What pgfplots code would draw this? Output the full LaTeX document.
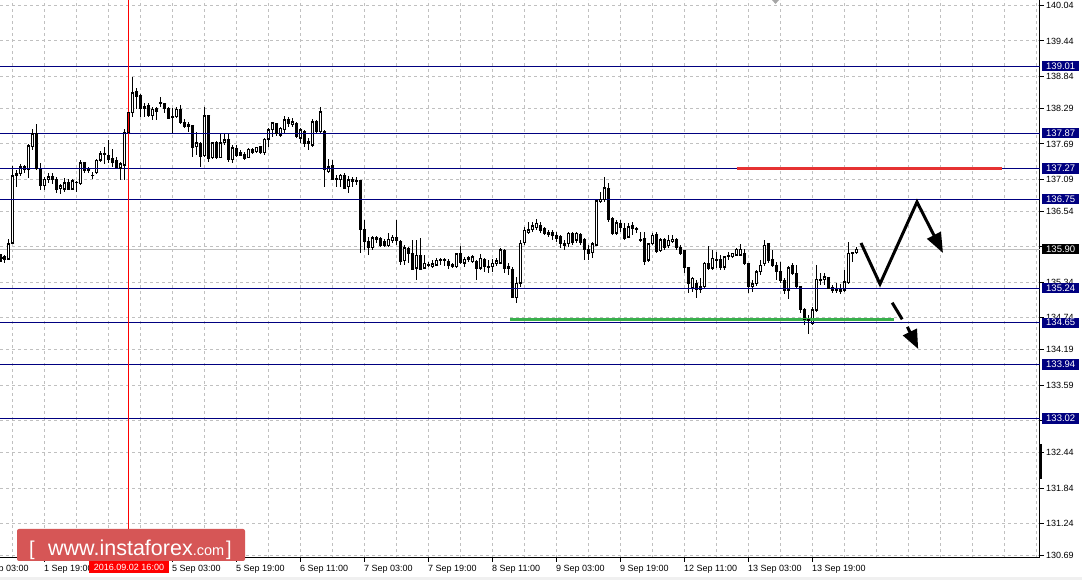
\documentclass[border=0pt]{standalone}
\usepackage{pgfplots}
\pgfplotsset{compat=1.18}
\usepackage{pgfplotstable}
\usepackage{fontspec}
\setmainfont{Liberation Sans}
\usetikzlibrary{arrows.meta}
\definecolor{lvl}{RGB}{0,0,128}
\definecolor{gridc}{RGB}{192,192,192}
\definecolor{lred}{RGB}{230,50,50}
\definecolor{lgreen}{RGB}{56,176,76}
\definecolor{logor}{RGB}{214,86,86}

\pgfplotstableread{
n o h l c
0 135.75 135.82 135.68 135.76
1 135.77 135.80 135.67 135.73
2 135.73 136.07 135.72 135.99
3 136.00 137.31 135.99 137.15
4 137.18 137.25 136.96 137.16
5 137.18 137.35 137.15 137.30
6 137.25 137.33 137.20 137.30
7 137.25 137.69 137.11 137.66
8 137.64 137.94 137.59 137.86
9 137.86 138.03 137.25 137.28
10 137.26 137.37 136.91 136.98
11 136.98 137.13 136.91 137.09
12 137.08 137.20 137.03 137.13
13 137.13 137.20 137.01 137.08
14 137.09 137.13 136.86 136.91
15 136.93 137.01 136.84 136.98
16 136.92 137.11 136.87 137.03
17 137.03 137.09 136.91 136.92
18 136.92 137.09 136.91 137.06
19 137.04 137.06 136.87 137.03
20 137.01 137.42 136.99 137.37
21 137.37 137.38 137.20 137.24
22 137.26 137.30 137.20 137.25
23 137.16 137.22 137.10 137.15
24 137.20 137.43 137.19 137.41
25 137.41 137.57 137.39 137.52
26 137.52 137.64 137.35 137.51
27 137.50 137.76 137.37 137.42
28 137.45 137.60 137.30 137.37
29 137.41 137.47 137.27 137.29
30 137.28 137.39 137.08 137.35
31 137.33 137.94 137.08 137.88
32 137.88 138.23 137.86 138.22
33 138.22 138.82 138.15 138.56
34 138.58 138.64 138.28 138.49
35 138.51 138.54 138.15 138.30
36 138.32 138.39 138.15 138.30
37 138.34 138.39 138.14 138.18
38 138.17 138.31 138.10 138.28
39 138.30 138.32 138.10 138.24
40 138.40 138.48 138.32 138.39
41 138.38 138.39 138.22 138.30
42 138.30 138.32 138.11 138.13
43 138.15 138.30 137.86 138.14
44 138.15 138.31 138.13 138.28
45 138.28 138.35 138.04 138.05
46 138.05 138.11 137.96 137.98
47 138.02 138.07 137.90 137.98
48 138.00 138.01 137.47 137.63
49 137.64 137.90 137.50 137.71
50 137.70 137.73 137.30 137.47
51 137.49 138.32 137.47 138.17
52 138.17 138.18 137.39 137.45
53 137.46 137.73 137.44 137.71
54 137.71 137.74 137.44 137.46
55 137.46 137.87 137.45 137.71
56 137.71 137.87 137.67 137.76
57 137.77 137.87 137.39 137.42
58 137.42 137.67 137.37 137.63
59 137.62 137.67 137.47 137.50
60 137.55 137.59 137.49 137.50
61 137.51 137.56 137.42 137.45
62 137.46 137.62 137.45 137.60
63 137.60 137.62 137.53 137.54
64 137.56 137.64 137.55 137.63
65 137.64 137.66 137.53 137.54
66 137.54 137.79 137.50 137.77
67 137.77 137.96 137.64 137.93
68 137.93 138.07 137.81 138.05
69 138.04 138.05 137.82 137.86
70 137.84 137.98 137.81 137.96
71 137.93 138.17 137.87 138.10
72 138.10 138.14 137.98 138.04
73 138.02 138.13 137.98 138.07
74 138.04 138.07 137.79 137.81
75 137.79 137.96 137.70 137.93
76 137.90 137.93 137.63 137.69
77 137.73 137.79 137.59 137.69
78 137.67 138.11 137.64 138.07
79 138.07 138.10 137.87 137.90
80 137.90 138.32 137.87 138.24
81 137.90 137.93 136.96 137.25
82 137.22 137.43 137.19 137.30
83 137.33 137.42 137.08 137.09
84 137.11 137.16 136.96 137.09
85 137.08 137.18 136.95 137.16
86 137.16 137.19 136.92 136.94
87 136.96 137.15 136.85 137.08
88 137.09 137.13 136.96 137.05
89 137.07 137.12 136.99 137.06
90 137.07 137.08 135.84 136.24
91 136.24 136.40 135.89 136.03
92 136.03 136.11 135.80 135.93
93 135.93 136.13 135.89 136.10
94 136.10 136.13 136.00 136.07
95 136.09 136.11 135.94 135.96
96 136.03 136.07 135.93 135.96
97 135.96 136.17 135.93 136.07
98 136.05 136.14 136.00 136.10
99 136.10 136.40 135.97 136.05
100 136.03 136.06 135.63 135.69
101 135.70 135.97 135.63 135.93
102 135.92 135.94 135.66 135.83
103 135.82 136.06 135.55 135.56
104 135.58 136.06 135.37 135.80
105 135.79 136.09 135.55 135.56
106 135.58 135.80 135.56 135.66
107 135.64 135.69 135.60 135.62
108 135.60 135.72 135.59 135.65
109 135.63 135.75 135.62 135.71
110 135.72 135.75 135.63 135.71
111 135.73 135.75 135.62 135.71
112 135.69 135.73 135.56 135.62
113 135.64 135.67 135.59 135.60
114 135.60 135.83 135.59 135.82
115 135.82 135.96 135.66 135.67
116 135.66 135.77 135.59 135.73
117 135.76 135.79 135.69 135.72
118 135.69 135.80 135.66 135.77
119 135.69 135.72 135.37 135.58
120 135.58 135.82 135.55 135.75
121 135.73 135.75 135.52 135.60
122 135.60 135.72 135.49 135.61
123 135.60 135.73 135.52 135.66
124 135.65 135.75 135.62 135.70
125 135.66 135.92 135.65 135.89
126 135.87 135.90 135.49 135.58
127 135.60 135.66 135.46 135.58
128 135.56 135.60 135.07 135.08
129 135.08 135.43 134.99 135.32
130 135.32 136.06 135.26 136.00
131 136.01 136.28 135.97 136.22
132 136.18 136.37 136.17 136.23
133 136.23 136.37 136.20 136.30
134 136.27 136.41 136.23 136.34
135 136.31 136.37 136.17 136.22
136 136.26 136.28 136.14 136.17
137 136.18 136.23 136.11 136.15
138 136.18 136.23 136.06 136.14
139 136.13 136.20 136.03 136.09
140 136.11 136.14 135.92 135.99
141 135.99 136.06 135.89 135.97
142 135.99 136.20 135.94 136.17
143 136.17 136.20 135.97 136.01
144 136.05 136.20 136.00 136.17
145 136.15 136.18 135.97 136.01
146 136.06 136.09 135.72 135.89
147 135.89 135.97 135.71 135.83
148 135.84 136.03 135.75 135.99
149 135.97 136.74 135.96 136.72
150 136.71 136.88 136.68 136.75
151 136.74 137.12 136.71 136.95
152 136.94 137.02 136.37 136.40
153 136.43 136.45 136.14 136.17
154 136.17 136.40 136.14 136.35
155 136.34 136.40 136.20 136.27
156 136.26 136.34 136.06 136.09
157 136.10 136.34 136.09 136.28
158 136.30 136.37 136.14 136.26
159 136.26 136.28 136.17 136.24
160 136.07 136.20 136.03 136.06
161 136.09 136.20 135.63 135.69
162 135.71 136.01 135.69 135.99
163 135.99 136.17 135.97 136.14
164 136.15 136.20 135.83 135.86
165 135.87 136.09 135.86 136.06
166 136.06 136.09 135.89 135.93
167 135.96 136.14 135.92 136.05
168 136.03 136.14 136.01 136.07
169 136.06 136.09 135.89 135.93
170 135.93 135.97 135.80 135.83
171 135.87 135.89 135.49 135.59
172 135.59 135.60 135.15 135.32
173 135.25 135.43 135.18 135.41
174 135.32 135.38 135.07 135.22
175 135.26 135.41 135.15 135.22
176 135.26 135.69 135.24 135.66
177 135.66 135.96 135.55 135.58
178 135.58 135.89 135.55 135.75
179 135.73 135.86 135.58 135.72
180 135.73 135.80 135.55 135.59
181 135.59 135.79 135.54 135.77
182 135.79 135.86 135.72 135.78
183 135.77 135.84 135.75 135.83
184 135.80 135.92 135.79 135.90
185 135.80 135.99 135.79 135.90
186 135.82 135.90 135.63 135.66
187 135.66 135.67 135.15 135.26
188 135.26 135.38 135.18 135.31
189 135.31 135.55 135.28 135.52
190 135.52 135.72 135.46 135.63
191 135.65 136.06 135.62 135.97
192 135.99 136.01 135.67 135.71
193 135.73 135.89 135.60 135.62
194 135.62 135.69 135.37 135.52
195 135.52 135.68 135.33 135.37
196 135.37 135.41 135.14 135.20
197 135.20 135.62 135.05 135.59
198 135.62 135.66 135.46 135.48
199 135.49 135.63 135.22 135.26
200 135.26 135.27 134.81 134.87
201 134.87 134.90 134.61 134.70
202 134.70 134.78 134.46 134.69
203 134.63 134.91 134.61 134.87
204 134.86 135.63 134.84 135.39
205 135.39 135.49 135.29 135.38
206 135.38 135.49 135.29 135.43
207 135.42 135.43 135.22 135.24
208 135.25 135.29 135.15 135.20
209 135.22 135.32 135.15 135.20
210 135.22 135.31 135.14 135.18
211 135.20 135.55 135.18 135.35
212 135.33 136.03 135.31 135.83
213 135.83 135.86 135.69 135.84
214 135.84 135.93 135.82 135.90
}\candles

\begin{document}
\begin{tikzpicture}[x=1pt,y=1pt]
\useasboundingbox (0,0) rectangle (1082,580);
\fill[white] (0,0) rectangle (1082,580);
\fill[black!6] (0,0) rectangle (1082,3);
\begin{axis}[
  at={(0pt,22pt)}, anchor=south west,
  scale only axis, width=1040pt, height=558pt,
  xmin=-0.25, xmax=259.75, ymin=130.651, ymax=140.137,
  axis x line*=bottom, axis y line*=right,
  axis line style={black, line width=1pt},
  tick style={black, line width=1pt},
  tick align=outside, major tick length=4pt, minor tick length=0pt,
  scaled y ticks=false,
  xtick={11,27,...,203},
  xticklabels={1 Sep 19:00,,5 Sep 03:00,5 Sep 19:00,6 Sep 11:00,7 Sep 03:00,7 Sep 19:00,8 Sep 11:00,9 Sep 03:00,9 Sep 19:00,12 Sep 11:00,13 Sep 03:00,13 Sep 19:00},
  minor xtick={3,11,...,259},
  xminorgrids,
  ytick={140.04,139.44,138.84,138.29,137.69,137.09,136.54,135.94,135.34,134.74,134.19,133.59,132.99,132.44,131.84,131.24,130.69},
  yticklabels={140.04,139.44,138.84,138.29,137.69,137.09,136.54,,135.34,134.74,134.19,133.59,,132.44,131.84,131.24,130.69},
  ymajorgrids,
  major grid style={gridc, line width=1pt, dash pattern=on 3pt off 3pt},
  minor grid style={gridc, line width=1pt, dash pattern=on 3pt off 3pt},
  tick label style={font=\fontsize{9}{10}\selectfont, text=black},
  xticklabel style={anchor=north west, inner xsep=0pt, inner ysep=2pt, xshift=-1pt, yshift=-1pt},
  yticklabel style={anchor=west, inner xsep=0pt, xshift=2pt},
]
% bid line
\addplot[gridc, line width=1pt, forget plot] coordinates {(-0.25,135.90) (259.75,135.90)};
% upper wicks
\addplot[draw=none, mark=none, forget plot,
  error bars/.cd, y dir=plus, y explicit, error mark=none,
  error bar style={draw=black, solid, line width=1pt}]
  table[x=n, y expr={max(\thisrow{o},\thisrow{c})}, y error expr={max(\thisrow{h}-max(\thisrow{o},\thisrow{c}),0)}] {\candles};
% lower wicks
\addplot[draw=none, mark=none, forget plot,
  error bars/.cd, y dir=minus, y explicit, error mark=none,
  error bar style={draw=black, solid, line width=1pt}]
  table[x=n, y expr={min(\thisrow{o},\thisrow{c})}, y error expr={max(min(\thisrow{o},\thisrow{c})-\thisrow{l},0)}] {\candles};
% bodies
\addplot[draw=none, mark=none, forget plot,
  error bars/.cd, y dir=both, y explicit, error mark=none,
  error bar style={draw=black, solid, line width=3pt}]
  table[x=n, y expr={(\thisrow{o}+\thisrow{c})/2}, y error expr={abs(\thisrow{c}-\thisrow{o})/2}] {\candles};
% hollow interior of rising candles
\addplot[draw=none, mark=none, forget plot,
  error bars/.cd, y dir=both, y explicit, error mark=none,
  error bar style={draw=white, solid, line width=1pt}]
  table[x=n, y expr={(\thisrow{o}+\thisrow{c})/2}, y error expr={max((\thisrow{c}-\thisrow{o})/2-0.017,0)}] {\candles};
% open and close edges
\addplot[draw=none, only marks, mark=-, mark size=1.5pt, forget plot, mark options={draw=black, solid, line width=1pt}]
  table[x=n, y=o] {\candles};
\addplot[draw=none, only marks, mark=-, mark size=1.5pt, forget plot, mark options={draw=black, solid, line width=1pt}]
  table[x=n, y=c] {\candles};
% level lines
\addplot[lvl, line width=1pt, forget plot] coordinates {(-0.25,139.01) (259.75,139.01)};
\addplot[lvl, line width=1pt, forget plot] coordinates {(-0.25,137.87) (259.75,137.87)};
\addplot[lvl, line width=1pt, forget plot] coordinates {(-0.25,137.27) (259.75,137.27)};
\addplot[lvl, line width=1pt, forget plot] coordinates {(-0.25,136.75) (259.75,136.75)};
\addplot[lvl, line width=1pt, forget plot] coordinates {(-0.25,135.24) (259.75,135.24)};
\addplot[lvl, line width=1pt, forget plot] coordinates {(-0.25,134.65) (259.75,134.65)};
\addplot[lvl, line width=1pt, forget plot] coordinates {(-0.25,133.94) (259.75,133.94)};
\addplot[lvl, line width=1pt, forget plot] coordinates {(-0.25,133.02) (259.75,133.02)};
% crosshair
\addplot[red, line width=1pt, forget plot] coordinates {(32,130.651) (32,140.137)};
% resistance / support marks
\addplot[lred, line width=3pt, forget plot] coordinates {(184,137.27) (250.25,137.27)};
\addplot[lgreen, line width=3pt, forget plot] coordinates {(127.25,134.71) (223.25,134.71)};
% forecast arrows
\addplot[black, line width=3pt, forget plot, -{Triangle[length=20pt, width=15pt]}]
  coordinates {(215,136.006) (219.75,135.309) (229,136.703) (235.5,135.836)};
\addplot[black, line width=3pt, forget plot] coordinates {(222.8,134.991) (225.3,134.709)};
\addplot[black, line width=3pt, forget plot, -{Triangle[length=19pt, width=15pt]}]
  coordinates {(226.6,134.58) (229.3,134.204)};
% anchors for labels
\coordinate (b1) at (axis cs:259.75,139.01);
\coordinate (b2) at (axis cs:259.75,137.87);
\coordinate (b3) at (axis cs:259.75,137.27);
\coordinate (b4) at (axis cs:259.75,136.75);
\coordinate (b5) at (axis cs:259.75,135.24);
\coordinate (b6) at (axis cs:259.75,134.65);
\coordinate (b7) at (axis cs:259.75,133.94);
\coordinate (b8) at (axis cs:259.75,133.02);
\coordinate (bp) at (axis cs:259.75,135.90);
\coordinate (dt) at (axis cs:32,130.651);
\coordinate (t0) at (axis cs:-5,130.651);
\end{axis}
\tikzset{pbox/.style={anchor=west, text=white, inner xsep=4pt, inner ysep=1.5pt,
  text height=6.8pt, text depth=0.5pt, font=\fontsize{9.5}{10}\selectfont}}
\foreach \c/\t in {b1/139.01,b2/137.87,b3/137.27,b4/136.75,b5/135.24,b6/134.65,b7/133.94,b8/133.02}
  \node[pbox, fill=lvl] at ([xshift=2pt]\c) {\t};
\node[pbox, fill=black] at ([xshift=2pt]bp) {135.90};
% scroll marker
\fill[black] (1038.5,101) rectangle (1041.5,136);
% shift marker
\fill[black!35] (772,580) -- (779,580) -- (775.5,576) -- cycle;
% partial first label
\node[anchor=north west, inner xsep=0pt, inner ysep=2pt, font=\fontsize{9}{10}\selectfont] at ([xshift=-1pt,yshift=-5pt]t0) {1 Sep 03:00};
% date box
\node[anchor=north, fill=red, text=white, inner xsep=5pt, inner ysep=2.5pt, text height=6.5pt, text depth=0.5pt, font=\fontsize{9}{10}\selectfont] at ([yshift=-3pt]dt) {2016.09.02 16:00};
% logo
\fill[logor, rounded corners=2pt] (17,19) rectangle (245,51);
\node[anchor=base west, text=white, inner sep=0pt, font=\fontsize{20}{22}\selectfont] at (29,24.5) {[};
\node[anchor=base west, text=white, inner sep=0pt, font=\fontsize{21.5}{24}\selectfont] at (48,24.5) {www.instaforex{\fontsize{14.5}{16}\selectfont.com}};
\node[anchor=base east, text=white, inner sep=0pt, font=\fontsize{20}{22}\selectfont] at (232,24.5) {]};
\end{tikzpicture}
\end{document}
